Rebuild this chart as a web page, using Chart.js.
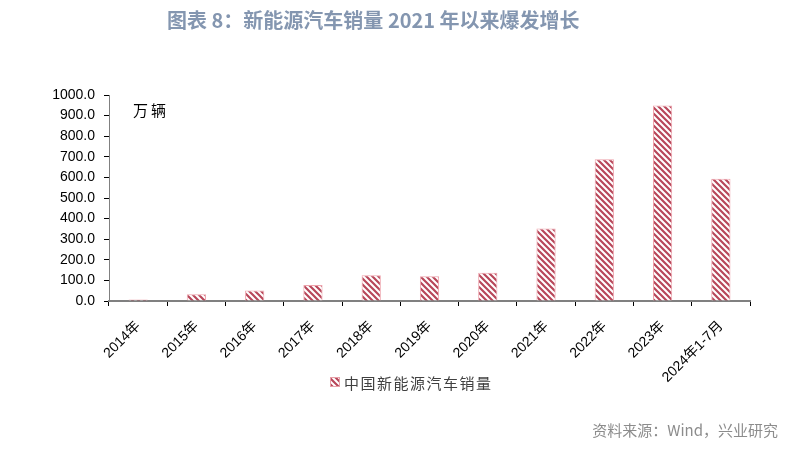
<!DOCTYPE html>
<html><head><meta charset="utf-8">
<script src="https://cdn.jsdelivr.net/npm/chart.js@4.4.1/dist/chart.umd.min.js"></script>
<style>
html,body{margin:0;padding:0;background:#fff;width:812px;height:449px;overflow:hidden;}
#wrap{position:relative;width:812px;height:449px;}
#title{position:absolute;left:167px;top:5px;white-space:nowrap;font-family:"Noto Sans CJK SC","Noto Sans",sans-serif;font-weight:bold;font-size:20px;color:#8496b0;}
#unit{position:absolute;left:133px;top:99px;font-family:"Noto Sans CJK SC",sans-serif;font-size:15px;color:#000;letter-spacing:3px;}
#source{position:absolute;right:34px;top:419px;font-family:"Noto Sans CJK SC",sans-serif;font-size:15px;color:#8c8c8c;}
canvas{position:absolute;left:0;top:0;}
</style></head>
<body><div id="wrap">
<canvas id="c" width="812" height="449"></canvas>
<div id="title">图表 8：新能源汽车销量 2021 年以来爆发增长</div>
<div id="unit">万辆</div>
<div id="source">资料来源：Wind，兴业研究</div>
</div>
<script>
const categories = ["2014年","2015年","2016年","2017年","2018年","2019年","2020年","2021年","2022年","2023年","2024年1-7月"];
const seriesName = "中国新能源汽车销量";
const salesValues = [7.5, 33.1, 50.7, 77.7, 125.6, 120.6, 136.7, 352.1, 688.7, 949.5, 593.9];
const yTicks = [0,100,200,300,400,500,600,700,800,900,1000];

function makePattern(ctx){
  const p = document.createElement('canvas');
  const s = 6;
  p.width = s; p.height = s;
  const g = p.getContext('2d');
  g.fillStyle = '#ffffff'; g.fillRect(0,0,s,s);
  g.strokeStyle = '#b8475a'; g.lineWidth = 2.2;
  g.beginPath();
  g.moveTo(-2,-2); g.lineTo(s+2,s+2);
  g.moveTo(-2,s-2); g.lineTo(2,s+2);
  g.moveTo(s-2,-2); g.lineTo(s+2,2);
  g.stroke();
  return ctx.createPattern(p,'repeat');
}
const ctx = document.getElementById('c').getContext('2d');
const pattern = makePattern(ctx);

const legendPlugin = {
  id:'customLegend',
  afterDraw(chart){
    const c = chart.ctx;
    c.save();
    c.font = '15px "Noto Sans CJK SC", sans-serif';
    try { c.letterSpacing = '1.5px'; } catch(e){}
    const txt = seriesName;
    const box = 10, gap = 4;
    const x0 = 330, y = 382;
    c.fillStyle = pattern;
    c.fillRect(x0, y-box/2, box, box);
    c.strokeStyle = '#e8a0a8'; c.lineWidth = 1;
    c.strokeRect(x0+0.5, y-box/2+0.5, box-1, box-1);
    c.fillStyle = '#404040';
    c.textBaseline = 'middle';
    c.fillText(txt, x0+box+gap, y+1);
    c.restore();
  }
};

new Chart(ctx, {
  type:'bar',
  data:{labels:categories, datasets:[{label:seriesName, data:salesValues, backgroundColor:pattern, borderColor:'#eea3ac', borderWidth:1, barPercentage:0.33, categoryPercentage:1.0}]},
  options:{
    responsive:false, animation:false,
    layout:{padding:{left:0, top:95, right:62, bottom:58}},
    plugins:{legend:{display:false}, tooltip:{enabled:false}, title:{display:false}},
    scales:{
      x:{
        offset:true,
        grid:{display:true, drawOnChartArea:false, offset:true, tickLength:5, color:'#000'},
        border:{display:true, color:'#808080', width:2},
        ticks:{minRotation:45, maxRotation:45, color:'#000', font:{family:'"Liberation Sans","Noto Sans CJK SC",sans-serif', size:14}, padding:12, autoSkip:false},
        afterFit(s){ s.height = 90; }
      },
      y:{
        min:0, max:1000,
        afterBuildTicks(s){ s.ticks = yTicks.map(v=>({value:v})); },
        grid:{display:true, drawOnChartArea:false, tickLength:5, color:'#000'},
        border:{display:true, color:'#808080', width:1},
        ticks:{color:'#000', font:{family:'"Liberation Sans",sans-serif', size:14}, padding:9, callback:v=>Number(v).toFixed(1)},
        afterFit(s){ s.width = 109; }
      }
    }
  },
  plugins:[legendPlugin]
});
</script>
</body></html>
